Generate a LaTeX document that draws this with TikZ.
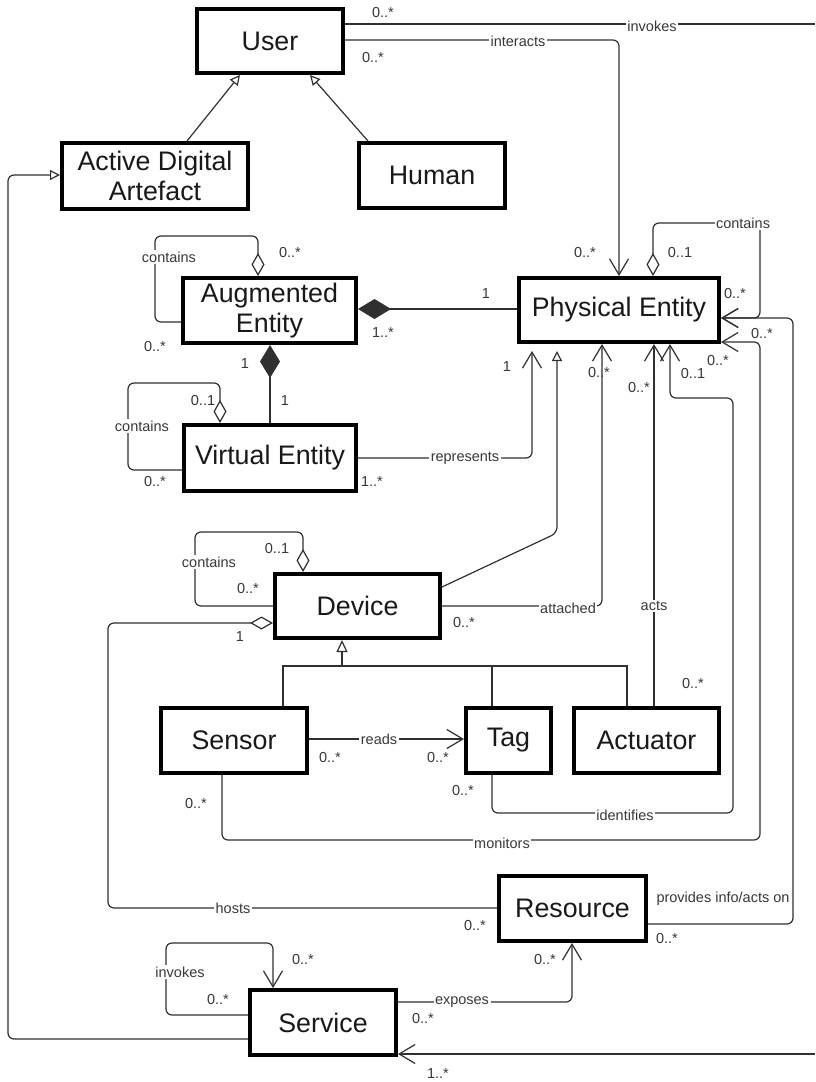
\documentclass[tikz,border=0pt]{standalone}
\usepackage{fontspec}
\setmainfont{Liberation Sans}
\usetikzlibrary{arrows.meta}
\definecolor{linec}{HTML}{303030}
\definecolor{textc}{HTML}{383838}
\tikzset{
  box/.style={draw=black, line width=4pt, fill=white, inner sep=0pt, outer sep=2pt,
    font=\fontsize{26.8}{29.5}\selectfont, text=black!90, align=center},
  lbl/.style={inner sep=0pt, outer sep=0pt, text=textc, font=\fontsize{14.5}{16}\selectfont},
  onln/.style={lbl, fill=white, inner sep=1.5pt},
  assoc/.style={draw=linec, line width=1.2pt, rounded corners=6pt},
  navtip/.tip={Straight Barb[length=16pt,width=19pt]},
  aggtip/.tip={Diamond[open,length=23pt,width=13pt]},
  comptip/.tip={Diamond[length=33pt,width=20pt]},
  nav/.style={assoc, -navtip},
  gen/.style={assoc, -{Triangle[open,length=10pt,width=10pt]}}
}
\begin{document}
\begin{tikzpicture}[x=1pt,y=1pt,yscale=-1]
\useasboundingbox[fill=white] (0,0) rectangle (815,1082);

\node[box, minimum width=146pt, minimum height=64pt] (user) at (270,41) {User};
\node[box, minimum width=186pt, minimum height=66pt] (ada) at (155,176) {Active Digital\\Artefact};
\node[box, minimum width=146pt, minimum height=65pt] (human) at (432,175.5) {Human};
\node[box, minimum width=173pt, minimum height=65pt] (ae) at (269.5,310.5) {Augmented\\Entity};
\node[box, minimum width=172pt, minimum height=66pt] (ve) at (270,458) {Virtual Entity};
\node[box, minimum width=200pt, minimum height=64pt] (pe) at (619,310) {Physical Entity};
\node[box, minimum width=165pt, minimum height=64pt] (device) at (357.5,606) {Device};
\node[box, minimum width=146pt, minimum height=65pt] (sensor) at (234,740.5) {Sensor};
\node[box, minimum width=85pt, minimum height=65pt] (tag) at (508.5,740.5) {Tag};
\node[box, minimum width=145pt, minimum height=65pt] (actuator) at (646.5,740.5) {Actuator};
\node[box, minimum width=147pt, minimum height=65pt] (resource) at (572.5,908.5) {Resource};
\node[box, minimum width=146pt, minimum height=65pt] (service) at (323,1022.5) {Service};

\coordinate (edgetop) at (815,24);
\coordinate (edgebot) at (815,1054);

\draw[gen] (ada.north -| 187,0) -- (user.south -| 240,0);
\draw[gen] (human.north -| 368,0) -- (user.south -| 310,0);
\draw[assoc] (user.east |- 0,24) -- (edgetop);
\draw[nav] (edgebot) -- (service.east |- 0,1054);
\draw[nav] (user.east |- 0,40) -| (pe.north -| 619,0);
\draw[assoc, aggtip-navtip] (pe.north -| 653,0) |- (760,223) |- (pe.east |- 0,318);
\draw[nav] (resource.east |- 0,924) -| (793,318) -- (pe.east |- 0,318);
\draw[nav] (sensor.south -| 222,0) |- (760,840) |- (pe.east |- 0,342);
\draw[nav] (tag.south -| 492,0) |- (733,813) |- (670,398) -- (pe.south -| 670,0);
\draw[nav] (actuator.north -| 654,0) -- (pe.south -| 654,0);
\draw[nav] (device.east |- 0,606) -| (pe.south -| 602,0);
\draw[gen, shorten >=7pt] (device.east |- 0,587) -- (557,533) -- (pe.south -| 557,0);
\draw[nav, shorten >=7pt] (ve.east |- 0,458) -| (pe.south -| 532,0);
\draw[assoc, comptip-] (ae.east |- 0,309) -- (pe.west |- 0,309);
\draw[assoc, comptip-] (ae.south -| 270,0) -- (ve.north -| 270,0);
\draw[assoc, aggtip-] (ae.north -| 258,0) |- (155,236) |- (ae.west |- 0,322);
\draw[assoc, aggtip-] (ve.north -| 220,0) |- (128,383) |- (ve.west |- 0,470);
\draw[assoc, aggtip-] (device.north -| 303,0) |- (195,532) |- (device.west |- 0,606);
\draw[assoc, aggtip-] (device.west |- 0,623) -| (108,908) -- (resource.west |- 0,908);
\draw[assoc, sharp corners, -{Triangle[open,length=12pt,width=11pt]}] (sensor.north -| 283,0) |- (342,666) -- (device.south -| 342,0);
\draw[assoc, sharp corners] (tag.north -| 492,0) |- (342,666);
\draw[assoc, sharp corners] (actuator.north -| 627,0) |- (492,666);
\draw[nav] (sensor.east |- 0,739) -- (tag.west |- 0,739);
\draw[nav] (service.east |- 0,1002) -| (resource.south -| 572,0);
\draw[nav] (service.west |- 0,1015) -| (166,943) -| (service.north -| 273,0);
\draw[gen] (service.west |- 0,1039) -| (8,175) -- (ada.west |- 0,175);

\node[onln] (l_invokes) at (652,26) {invokes};
\node[onln] (l_interacts) at (518,41) {interacts};
\node[onln] (l_pecont) at (743,223) {contains};
\node[onln] (l_aecont) at (169,257) {contains};
\node[onln] (l_vecont) at (142,426) {contains};
\node[onln] (l_devcont) at (209,562) {contains};
\node[onln] (l_represents) at (465,458) {represents};
\node[onln] (l_attached) at (568,608) {attached};
\node[onln] (l_acts) at (654,606) {acts};
\node[onln] (l_reads) at (379,739) {reads};
\node[onln] (l_identifies) at (625,815) {identifies};
\node[onln] (l_monitors) at (502,843) {monitors};
\node[onln] (l_hosts) at (233,908) {hosts};
\node[onln] (l_exposes) at (462,1002) {exposes};
\node[onln] (l_srvinv) at (180,972) {invokes};
\node[lbl] (l_provides) at (723,899) {provides info/acts on};

\node[lbl] (m1) at (383,13) {0..*};
\node[lbl] (m2) at (373,58) {0..*};
\node[lbl] (m3) at (585,253) {0..*};
\node[lbl] (m4) at (680,253) {0..1};
\node[lbl] (m5) at (735,294) {0..*};
\node[lbl] (m6) at (762,334) {0..*};
\node[lbl] (m7) at (718,361) {0..*};
\node[lbl] (m8) at (693,374) {0..1};
\node[lbl] (m9) at (639,388) {0..*};
\node[lbl] (m10) at (599,373) {0..*};
\node[lbl] (m11) at (507,367) {1};
\node[lbl] (m12) at (486,294) {1};
\node[lbl] (m13) at (383,333) {1..*};
\node[lbl] (m14) at (245,364) {1};
\node[lbl] (m15) at (285,401) {1};
\node[lbl] (m16) at (290,253) {0..*};
\node[lbl] (m17) at (155,347) {0..*};
\node[lbl] (m18) at (203,401) {0..1};
\node[lbl] (m19) at (155,482) {0..*};
\node[lbl] (m20) at (372,482) {1..*};
\node[lbl] (m21) at (277,549) {0..1};
\node[lbl] (m22) at (248,589) {0..*};
\node[lbl] (m23) at (240,637) {1};
\node[lbl] (m24) at (464,623) {0..*};
\node[lbl] (m25) at (693,683) {0..*};
\node[lbl] (m26) at (330,757) {0..*};
\node[lbl] (m27) at (438,757) {0..*};
\node[lbl] (m28) at (463,790) {0..*};
\node[lbl] (m29) at (196,803) {0..*};
\node[lbl] (m30) at (475,925) {0..*};
\node[lbl] (m31) at (667,938) {0..*};
\node[lbl] (m32) at (545,959) {0..*};
\node[lbl] (m33) at (423,1018) {0..*};
\node[lbl] (m34) at (303,959) {0..*};
\node[lbl] (m35) at (218,999) {0..*};
\node[lbl] (m36) at (438,1073) {1..*};
\end{tikzpicture}
\end{document}
